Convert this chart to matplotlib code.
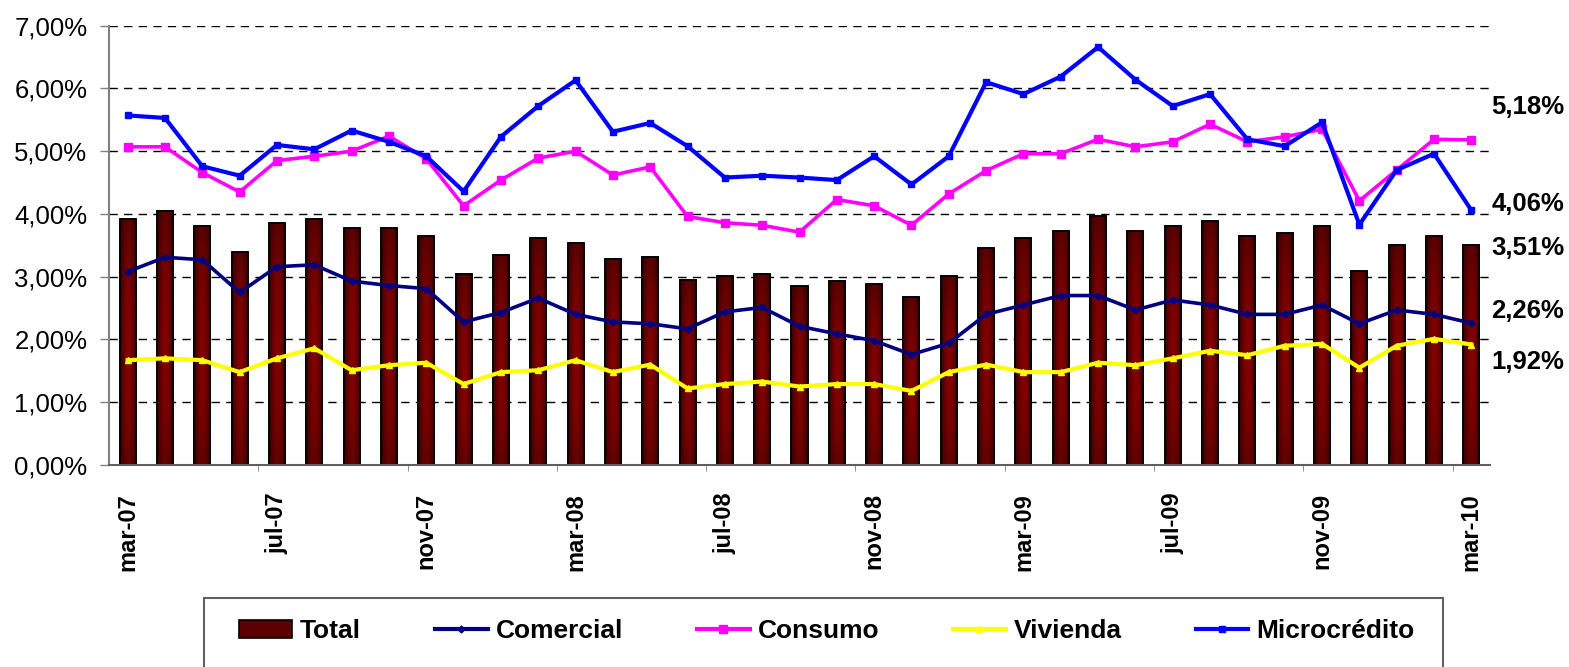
"""morosidad por modalidad de cartera, mar-07 a mar-10"""
import numpy as np
import matplotlib
matplotlib.use("Agg")
import matplotlib.pyplot as plt
from matplotlib.patches import Rectangle, Patch
from matplotlib.lines import Line2D

# data (in %)
months = ["mar-07", "abr-07", "may-07", "jun-07", "jul-07", "ago-07", "sep-07",
          "oct-07", "nov-07", "dic-07", "ene-08", "feb-08", "mar-08", "abr-08",
          "may-08", "jun-08", "jul-08", "ago-08", "sep-08", "oct-08", "nov-08",
          "dic-08", "ene-09", "feb-09", "mar-09", "abr-09", "may-09", "jun-09",
          "jul-09", "ago-09", "sep-09", "oct-09", "nov-09", "dic-09", "ene-10",
          "feb-10", "mar-10"]
total = [3.92, 4.04, 3.81, 3.39, 3.86, 3.92, 3.78, 3.78, 3.65, 3.05, 3.35, 3.62,
         3.54, 3.28, 3.31, 2.94, 3.01, 3.05, 2.86, 2.93, 2.89, 2.67, 3.01, 3.46,
         3.62, 3.73, 3.96, 3.73, 3.81, 3.89, 3.65, 3.69, 3.81, 3.09, 3.50, 3.65,
         3.51]
comercial = [3.08, 3.31, 3.27, 2.75, 3.16, 3.19, 2.93, 2.86, 2.81, 2.28, 2.43,
             2.66, 2.40, 2.28, 2.25, 2.17, 2.44, 2.51, 2.21, 2.09, 1.98, 1.76,
             1.94, 2.40, 2.55, 2.70, 2.70, 2.47, 2.63, 2.55, 2.40, 2.40, 2.55,
             2.25, 2.47, 2.40, 2.26]
consumo = [5.07, 5.07, 4.66, 4.35, 4.85, 4.92, 5.00, 5.24, 4.88, 4.13, 4.54,
           4.89, 5.00, 4.62, 4.75, 3.96, 3.86, 3.82, 3.71, 4.23, 4.13, 3.82,
           4.32, 4.69, 4.96, 4.96, 5.19, 5.07, 5.15, 5.43, 5.15, 5.23, 5.35,
           4.21, 4.70, 5.19, 5.18]
vivienda = [1.67, 1.70, 1.67, 1.48, 1.70, 1.86, 1.51, 1.59, 1.63, 1.29, 1.48,
            1.51, 1.67, 1.48, 1.60, 1.22, 1.29, 1.33, 1.25, 1.29, 1.29, 1.18,
            1.48, 1.60, 1.48, 1.48, 1.63, 1.59, 1.70, 1.82, 1.75, 1.90, 1.93,
            1.55, 1.90, 2.01, 1.92]
microcredito = [5.57, 5.53, 4.76, 4.61, 5.10, 5.03, 5.33, 5.15, 4.92, 4.36,
                5.23, 5.72, 6.13, 5.31, 5.45, 5.08, 4.58, 4.61, 4.58, 4.54,
                4.92, 4.47, 4.92, 6.10, 5.91, 6.19, 6.66, 6.14, 5.72, 5.91,
                5.19, 5.08, 5.46, 3.83, 4.70, 4.96, 4.06]

plt.rcParams["font.family"] = ["Liberation Sans", "DejaVu Sans"]

W, H = 1569, 667
fig = plt.figure(figsize=(W / 100, H / 100), dpi=100)
ax = fig.add_axes([109 / W, 1 - 465 / H, (1490 - 109) / W, (465 - 25.7) / H])
ax.set_axisbelow(True)

x = np.arange(len(months))
width = 0.43

# bars with a dark-red gradient, like the excel fill
bars = ax.bar(x, total, width, color="#600000", edgecolor="black",
              linewidth=1.2, zorder=2)
u = np.linspace(0, 1, 40)
v = np.linspace(0, 1, 80)
hprof = 1 - np.abs(2 * u - 1) ** 1.6
vprof = np.clip(np.sin(np.pi * (0.12 + 0.8 * v)), 0, 1) ** 0.5
t = np.outer(vprof, hprof)
dark = np.array([0.20, 0.0, 0.0])
bright = np.array([0.52, 0.0, 0.0])
img = dark + t[..., None] * (bright - dark)
for b in bars:
    x0, h = b.get_x(), b.get_height()
    im = ax.imshow(img, extent=(x0, x0 + width, 0, h), origin="lower",
                   aspect="auto", zorder=2.1, interpolation="bilinear")
    im.set_clip_path(b)
    ax.add_patch(Rectangle((x0, 0), width, h, fill=False, edgecolor="black",
                           linewidth=1.2, zorder=2.2))

ax.plot(x, comercial, color="#000080", lw=2.6, marker="D", ms=3.5, zorder=3)
ax.plot(x, consumo, color="#FF00FF", lw=2.6, marker="s", ms=6, zorder=3)
ax.plot(x, vivienda, color="#FFFF00", lw=3.0, marker="^", ms=4, zorder=3)
ax.plot(x, microcredito, color="#0000FF", lw=3.0, marker="s", ms=4.5, zorder=3.1)

ax.set_xlim(-0.5, len(months) - 0.5)
ax.set_ylim(0, 7)

# y axis
ax.set_yticks(range(0, 8))
ax.set_yticklabels([f"{i},00%" for i in range(0, 8)], fontsize=18.5)
ax.tick_params(axis="y", direction="out", length=6.5, width=1, color="#808080",
               pad=9)
ax.yaxis.grid(True, color="black", linestyle=(0, (6, 4.5)), linewidth=1)

# x axis: labels every 4 months, tick marks between categories
ax.set_xticks(x[::4])
ax.set_xticklabels(months[::4], rotation=90, fontsize=17, fontweight="bold")
ax.tick_params(axis="x", length=0, pad=20)
ax.set_xticks(x[3::4] + 0.5, minor=True)
ax.tick_params(axis="x", which="minor", direction="out", length=4.5,
               color="#808080")

for s in ["top", "right"]:
    ax.spines[s].set_visible(False)
ax.spines["left"].set_color("#808080")
ax.spines["left"].set_linewidth(1.5)
ax.spines["bottom"].set_color("#606060")
ax.spines["bottom"].set_linewidth(1.5)

# last-value labels on the right
last_labels = [(consumo[-1], 5.71), (microcredito[-1], 4.16), (total[-1], 3.46),
               (comercial[-1], 2.46), (vivienda[-1], 1.64)]
tr = ax.get_yaxis_transform()
for val, ypos in last_labels:
    ax.text(1.0275, ypos, f"{val:.2f}".replace(".", ",") + "%", transform=tr,
            ha="center", va="center", fontsize=18.5, fontweight="bold",
            clip_on=False)

# legend box (bottom edge runs off the figure)
fig.patches.append(Rectangle((204 / W, -0.05), (1443 - 204) / W,
                             1 - 598 / H + 0.05, transform=fig.transFigure,
                             fill=False, edgecolor="#606060", linewidth=1.5))
handles = [
    Patch(facecolor="#5a0000", edgecolor="black", linewidth=1.2),
    Line2D([], [], color="#000080", lw=3, marker="D", ms=3.5),
    Line2D([], [], color="#FF00FF", lw=3, marker="s", ms=6),
    Line2D([], [], color="#FFFF00", lw=3, marker="^", ms=4),
    Line2D([], [], color="#0000FF", lw=3, marker="s", ms=4.5),
]
fig.legend(handles, ["Total", "Comercial", "Consumo", "Vivienda", "Microcrédito"],
           loc="center", bbox_to_anchor=(827 / W, 1 - 631 / H), ncol=5,
           frameon=False, prop={"weight": "bold", "size": 19},
           handlelength=2.0, handletextpad=0.3, columnspacing=2.8,
           handleheight=0.7, borderaxespad=0)

fig.savefig("out.png", dpi=100)
